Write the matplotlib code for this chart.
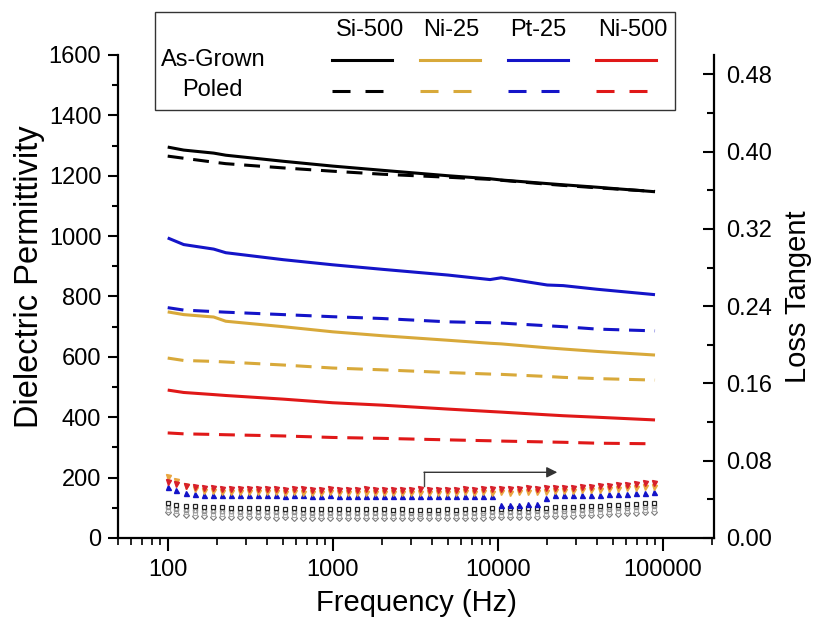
import numpy as np
import matplotlib
matplotlib.use('Agg')
import matplotlib.pyplot as plt
from matplotlib.ticker import MultipleLocator, LogLocator, FixedLocator, FixedFormatter, FormatStrFormatter, NullFormatter
from matplotlib.lines import Line2D
from matplotlib.patches import Rectangle

plt.rcParams['font.family'] = ['Liberation Sans', 'DejaVu Sans']

# dielectric permittivity vs frequency
freq = [100, 125, 190, 225, 500, 1000, 2000, 5000, 9000, 10500, 20000, 25000, 40000, 90000]
eps_si_ag = [1295, 1285, 1275, 1268, 1248, 1232, 1218, 1200, 1190, 1186, 1174, 1170, 1162, 1147]
eps_si_p = [1265, 1258, 1245, 1240, 1226, 1215, 1205, 1195, 1188, 1185, 1172, 1168, 1160, 1148]
eps_ni25_ag = [749, 740, 732, 718, 700, 683, 670, 655, 645, 643, 630, 626, 618, 606]
eps_ni25_p = [596, 588, 585, 583, 573, 563, 557, 548, 543, 542, 535, 532, 528, 523]
eps_pt25_ag = [994, 972, 957, 945, 922, 905, 890, 871, 856, 862, 838, 836, 824, 806]
eps_pt25_p = [763, 755, 750, 748, 740, 733, 727, 716, 713, 712, 703, 700, 692, 686]
eps_ni500_ag = [490, 482, 475, 472, 460, 448, 440, 427, 419, 417, 408, 405, 400, 391]
eps_ni500_p = [348, 345, 343, 342, 338, 333, 330, 325, 322, 321, 318, 317, 314, 312]

# loss tangent vs frequency
freq_tan = [100, 113, 129, 146, 165, 188, 213, 241, 273, 310, 352,
            399, 452, 513, 581, 659, 748, 848, 961, 1090, 1236,
            1401, 1589, 1802, 2043, 2317, 2627, 2979, 3378, 3831, 4344,
            4926, 5586, 6334, 7183, 8145, 9236, 10470, 11880, 13470, 15270,
            17320, 19640, 22270, 25250, 28630, 32470, 36820, 41750, 47340, 53680,
            60870, 69030, 78270, 88760]
tan_ni500_ag = [0.058, 0.056, 0.054, 0.053, 0.052, 0.052, 0.051, 0.051, 0.051, 0.051, 0.051,
                0.051, 0.051, 0.050, 0.051, 0.051, 0.050, 0.050, 0.051, 0.050, 0.050, 0.050,
                0.051, 0.050, 0.050, 0.050, 0.050, 0.050, 0.051, 0.050, 0.050, 0.050, 0.050,
                0.051, 0.050, 0.051, 0.051, 0.051, 0.051, 0.051, 0.052, 0.051, 0.052, 0.052,
                0.052, 0.052, 0.053, 0.053, 0.054, 0.054, 0.055, 0.055, 0.056, 0.057, 0.057]
tan_ni25_ag = [0.063, 0.059, 0.054, 0.051, 0.049, 0.049, 0.048, 0.048, 0.048, 0.048, 0.048,
               0.048, 0.048, 0.047, 0.048, 0.047, 0.047, 0.047, 0.048, 0.047, 0.047, 0.047,
               0.047, 0.047, 0.047, 0.047, 0.047, 0.047, 0.047, 0.047, 0.047, 0.047, 0.047,
               0.048, 0.047, 0.048, 0.047, 0.048, 0.047, 0.048, 0.048, 0.048, 0.048, 0.049,
               0.049, 0.049, 0.050, 0.050, 0.050, 0.051, 0.051, 0.052, 0.052, 0.053, 0.053]
tan_pt25_ag = [0.053, 0.050, 0.047, 0.046, 0.045, 0.045, 0.044, 0.044, 0.044, 0.044, 0.044,
               0.044, 0.044, 0.043, 0.044, 0.044, 0.043, 0.043, 0.044, 0.043, 0.043, 0.043,
               0.043, 0.043, 0.043, 0.043, 0.043, 0.043, 0.043, 0.043, 0.043, 0.043, 0.043,
               0.043, 0.043, 0.043, 0.043, 0.034, 0.034, 0.034, 0.035, 0.035, 0.041, 0.044,
               0.044, 0.044, 0.045, 0.045, 0.045, 0.046, 0.046, 0.046, 0.047, 0.047, 0.048]
tan_si_ag = [0.036, 0.034, 0.033, 0.033, 0.032, 0.032, 0.032, 0.031, 0.031, 0.031, 0.031,
             0.031, 0.031, 0.030, 0.031, 0.030, 0.030, 0.030, 0.030, 0.030, 0.030, 0.030,
             0.030, 0.030, 0.030, 0.029, 0.030, 0.029, 0.029, 0.029, 0.029, 0.030, 0.029,
             0.030, 0.030, 0.030, 0.031, 0.030, 0.031, 0.031, 0.031, 0.031, 0.031, 0.032,
             0.032, 0.032, 0.033, 0.033, 0.033, 0.034, 0.034, 0.035, 0.035, 0.036, 0.036]
tan_si_p = [0.032, 0.030, 0.029, 0.029, 0.028, 0.028, 0.028, 0.028, 0.027, 0.027, 0.027,
            0.027, 0.027, 0.027, 0.027, 0.026, 0.026, 0.026, 0.026, 0.026, 0.026, 0.026,
            0.026, 0.026, 0.026, 0.026, 0.026, 0.026, 0.025, 0.026, 0.026, 0.026, 0.026,
            0.026, 0.026, 0.026, 0.027, 0.027, 0.027, 0.027, 0.027, 0.028, 0.028, 0.028,
            0.028, 0.029, 0.029, 0.029, 0.030, 0.030, 0.031, 0.031, 0.032, 0.032, 0.033]
tan_ni25_p = [0.029, 0.028, 0.027, 0.026, 0.026, 0.025, 0.025, 0.025, 0.025, 0.025, 0.024,
              0.024, 0.024, 0.024, 0.024, 0.024, 0.024, 0.023, 0.024, 0.023, 0.023, 0.023,
              0.023, 0.023, 0.023, 0.023, 0.023, 0.023, 0.023, 0.023, 0.023, 0.023, 0.023,
              0.023, 0.023, 0.024, 0.024, 0.024, 0.024, 0.024, 0.024, 0.025, 0.025, 0.025,
              0.025, 0.026, 0.026, 0.026, 0.027, 0.027, 0.028, 0.028, 0.029, 0.029, 0.030]
tan_pt25_p = [0.033, 0.031, 0.030, 0.029, 0.029, 0.029, 0.028, 0.028, 0.028, 0.028, 0.028,
              0.028, 0.028, 0.027, 0.028, 0.027, 0.027, 0.027, 0.027, 0.027, 0.027, 0.027,
              0.027, 0.027, 0.027, 0.027, 0.027, 0.027, 0.027, 0.027, 0.027, 0.027, 0.027,
              0.027, 0.027, 0.028, 0.028, 0.028, 0.028, 0.028, 0.028, 0.029, 0.029, 0.029,
              0.030, 0.030, 0.030, 0.031, 0.031, 0.032, 0.032, 0.033, 0.033, 0.034, 0.034]
tan_ni500_p = [0.027, 0.025, 0.024, 0.023, 0.023, 0.022, 0.022, 0.022, 0.022, 0.022, 0.022,
               0.022, 0.021, 0.022, 0.021, 0.021, 0.021, 0.021, 0.021, 0.021, 0.021, 0.021,
               0.021, 0.021, 0.021, 0.021, 0.021, 0.021, 0.021, 0.021, 0.021, 0.021, 0.021,
               0.021, 0.021, 0.021, 0.022, 0.022, 0.022, 0.022, 0.022, 0.022, 0.023, 0.023,
               0.023, 0.023, 0.024, 0.024, 0.024, 0.025, 0.025, 0.026, 0.026, 0.027, 0.027]

samples = ['Si-500', 'Ni-25', 'Pt-25', 'Ni-500']
colors = ['#000000', '#d8a93a', '#1414c8', '#e01818']
states = ['As-Grown', 'Poled']

x_ticks = [100, 1000, 10000, 100000]
x_ticklabels = ['100', '1000', '10000', '100000']

dash = (0, (5.2, 3.2))
lw = 2.2

fig = plt.figure(figsize=(8.22, 6.2), dpi=100)
ax = fig.add_axes([0.1436, 0.1323, 0.725, 0.779])
ax2 = ax.twinx()

eps_ag = [eps_si_ag, eps_ni25_ag, eps_pt25_ag, eps_ni500_ag]
eps_p = [eps_si_p, eps_ni25_p, eps_pt25_p, eps_ni500_p]
for c, ag, p in zip(colors, eps_ag, eps_p):
    ax.plot(freq, ag, color=c, lw=lw, solid_capstyle='butt')
    ax.plot(freq, p, color=c, lw=lw, linestyle=dash)

# loss tangent markers on the right axis
ms = 3.6
ax2.plot(freq_tan, tan_ni500_p, ls='none', marker='D', ms=ms - 0.6, mfc='white', mec='#777777', mew=0.8)
ax2.plot(freq_tan, tan_ni25_p, ls='none', marker='s', ms=ms - 0.4, mfc='white', mec='#aaaaaa', mew=0.8)
ax2.plot(freq_tan, tan_si_p, ls='none', marker='o', ms=ms - 0.4, mfc='white', mec='#888888', mew=0.8)
ax2.plot(freq_tan, tan_pt25_p, ls='none', marker='^', ms=ms - 0.4, mfc='white', mec='#999999', mew=0.8)
ax2.plot(freq_tan, tan_si_ag, ls='none', marker='s', ms=ms - 0.6, mfc='white', mec='#222222', mew=0.9)
ax2.plot(freq_tan, tan_pt25_ag, ls='none', marker='^', ms=ms, color='#1414c8', mec='#1414c8')
ax2.plot(freq_tan, tan_ni25_ag, ls='none', marker='v', ms=ms, color='#e9a640', mec='#e9a640')
ax2.plot(freq_tan, tan_ni500_ag, ls='none', marker='v', ms=ms, color='#d8202a', mec='#d8202a')

# arrow pointing to the loss tangent axis
ax2.plot([3600, 3600], [0.054, 0.068], color='#444444', lw=1.0)
ax2.annotate('', xy=(23000, 0.068), xytext=(3580, 0.068),
             arrowprops=dict(arrowstyle='-|>', color='#333333', lw=1.0, mutation_scale=16, shrinkA=0, shrinkB=0))

ax.set_xscale('log')
ax.set_xlim(50, 205000)
ax.set_ylim(0, 1600)
ax2.set_ylim(0, 0.5)

ax.xaxis.set_major_locator(FixedLocator(x_ticks))
ax.xaxis.set_major_formatter(FixedFormatter(x_ticklabels))
ax.xaxis.set_minor_locator(LogLocator(base=10, subs=np.arange(2, 10)))
ax.xaxis.set_minor_formatter(NullFormatter())
ax.yaxis.set_major_locator(MultipleLocator(200))
ax.yaxis.set_minor_locator(MultipleLocator(100))
ax2.yaxis.set_major_locator(MultipleLocator(0.08))
ax2.yaxis.set_minor_locator(MultipleLocator(0.04))
ax2.yaxis.set_major_formatter(FormatStrFormatter('%.2f'))

for a in (ax, ax2):
    for s in a.spines.values():
        s.set_linewidth(1.6)
    a.spines['top'].set_visible(False)
ax.spines['right'].set_visible(False)
ax2.spines['left'].set_visible(False)
ax2.spines['bottom'].set_visible(False)

ax.tick_params(axis='y', which='major', direction='out', length=7, width=1.5, labelsize=17, pad=5)
ax.tick_params(axis='y', which='minor', direction='out', length=4, width=1.5)
ax.tick_params(axis='x', which='major', direction='out', length=9, width=1.5, labelsize=17, pad=6)
ax.tick_params(axis='x', which='minor', direction='out', length=5, width=1.2)
ax2.tick_params(axis='y', which='major', direction='in', length=8, width=1.5, labelsize=17, pad=9)
ax2.tick_params(axis='y', which='minor', direction='in', length=5, width=1.5)

ax.set_xlabel('Frequency (Hz)', fontsize=21, labelpad=6)
ax.set_ylabel('Dielectric Permittivity', fontsize=23.5)
ax.yaxis.set_label_coords(-0.122, 0.542)
ax2.set_ylabel('Loss Tangent', fontsize=21, labelpad=8)

# legend grid: sample names across the top, state on each row
box = Rectangle((0.1886, 0.8226), 0.6326, 0.158, transform=fig.transFigure,
                facecolor='white', edgecolor='#333333', lw=1.0, zorder=5)
fig.add_artist(box)
col_x = [370, 451, 538, 633]
key_x = [362, 450, 538, 626]
fig_w, fig_h = 822.0, 620.0
for name, cx in zip(samples, col_x):
    fig.text(cx / fig_w, 1 - 30 / fig_h, name, ha='center', va='center', fontsize=17, zorder=6)
fig.text(213 / fig_w, 1 - 60 / fig_h, states[0], ha='center', va='center', fontsize=17, zorder=6)
fig.text(212 / fig_w, 1 - 90 / fig_h, states[1], ha='center', va='center', fontsize=17, zorder=6)
for c, kx in zip(colors, key_x):
    fig.add_artist(Line2D([(kx - 30) / fig_w, (kx + 30) / fig_w], [1 - 60 / fig_h] * 2,
                          transform=fig.transFigure, color=c, lw=lw, zorder=6))
    fig.add_artist(Line2D([(kx - 30) / fig_w, (kx + 21) / fig_w], [1 - 91 / fig_h] * 2,
                          transform=fig.transFigure, color=c, lw=lw, linestyle=(0, (5.9, 4.9)), zorder=6))

fig.savefig('out.png', dpi=100)
